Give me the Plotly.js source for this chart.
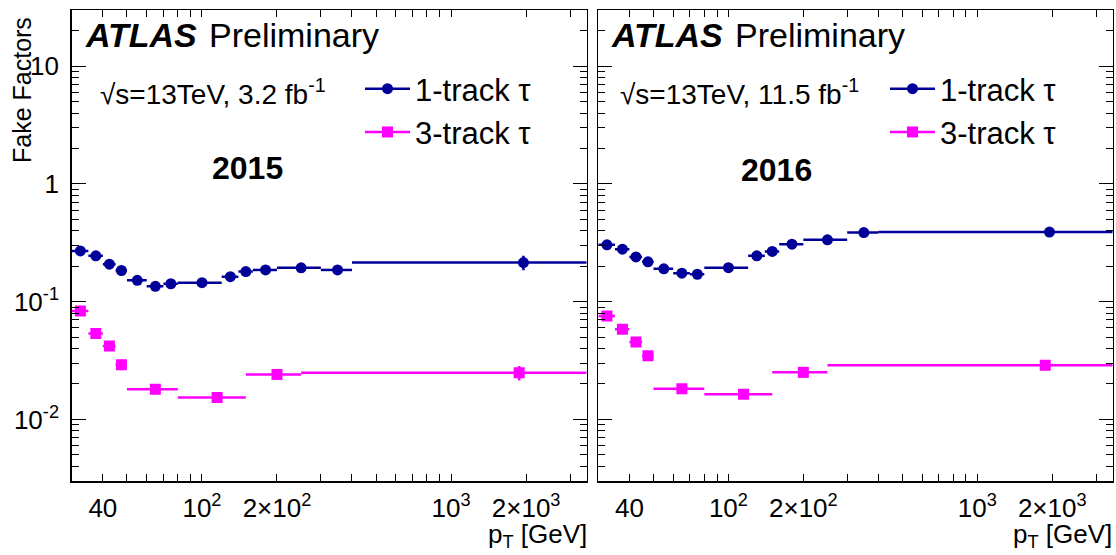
<!DOCTYPE html>
<html><head><meta charset="utf-8">
<script src="https://cdn.plot.ly/plotly-3.0.1.min.js"></script>
<style>html,body{margin:0;padding:0;background:#fff}#chart{width:1116px;height:555px}</style>
</head><body><div id="chart"></div>
<script>
// ---------- data ----------
const edges1 = [30,35,40,45,50,60,70,80,120,140,160,200,300,400,3500];   // 1-track bins (GeV)
const edges3 = [30,35,40,45,50,80,150,250,3500];                         // 3-track bins (GeV)

const ff1_2015  = [0.270,0.245,0.208,0.184,0.152,0.135,0.142,0.145,0.163,0.180,0.186,0.194,0.186,0.215];
const err1_2015 = [0.006,0.005,0.004,0.004,0.003,0.003,0.003,0.003,0.004,0.005,0.005,0.006,0.008,0.030];
const ff3_2015  = [0.0833,0.0538,0.0420,0.0291,0.0180,0.01535,0.0241,0.0249];
const err3_2015 = [0.004,0.003,0.0025,0.003,0.001,0.0008,0.0012,0.0035];

const ff1_2016  = [0.304,0.279,0.240,0.218,0.190,0.1745,0.171,0.1945,0.245,0.267,0.308,0.335,0.386,0.390];
const err1_2016 = [0.004,0.004,0.003,0.003,0.003,0.002,0.002,0.002,0.003,0.004,0.004,0.005,0.006,0.010];
const ff3_2016  = [0.0755,0.0582,0.0454,0.0347,0.0182,0.01637,0.0251,0.0289];
const err3_2016 = [0.002,0.0015,0.0012,0.001,0.0005,0.0004,0.0006,0.0010];

const seriesNames = ['1-track \u03c4','3-track \u03c4'];
const colors = ['#000099','#ff00ff'];
const years = ['2015','2016'];
const lumis = ['3.2','11.5'];

const xTickVals = [40,100,200,1000,2000];
const xTickText = ['40','10<sup>2</sup>','2\u00d710<sup>2</sup>','10<sup>3</sup>','2\u00d710<sup>3</sup>'];
const xMinorVals = [50,60,70,80,90,300,400,500,600,700,800,900,3000];
const xLongVals = [100,1000];
const yTickVals = [0.01,0.1,1,10];
const yTickText = ['10<sup>-2</sup>','10<sup>-1</sup>','1','10'];
const yMinorVals = [0.003,0.004,0.005,0.006,0.007,0.008,0.009,0.02,0.03,0.04,0.05,0.06,0.07,0.08,0.09,
                    0.2,0.3,0.4,0.5,0.6,0.7,0.8,0.9,2,3,4,5,6,7,8,9,20,30];
const xRange = [30,3500];
const yRange = [0.003,30];

// ---------- helpers ----------
const FONT = 'Liberation Sans, Arial, Helvetica, sans-serif';
function centers(e){ const c=[]; for(let i=0;i<e.length-1;i++) c.push((e[i]+e[i+1])/2); return c; }
function plus(e){ const c=centers(e); return c.map((v,i)=>e[i+1]-v); }
function minus(e){ const c=centers(e); return c.map((v,i)=>v-e[i]); }

function dataTrace(edges, vals, errs, color, symbol, xa, ya){
  return {
    type:'scatter', mode:'markers', x:centers(edges), y:vals, xaxis:xa, yaxis:ya, showlegend:false,
    marker:{color:color, size:11, symbol:symbol},
    error_x:{type:'data', symmetric:false, array:plus(edges), arrayminus:minus(edges), color:color, thickness:2.5, width:0},
    error_y:{type:'data', array:errs, color:color, thickness:2.5, width:0},
    hoverinfo:'x+y'
  };
}
function legendTrace(name, color, symbol, xa, ya, leg, grp){
  return {type:'scatter', mode:'lines+markers', x:[null], y:[null], xaxis:xa, yaxis:ya, name:name,
    legend:leg, legendgroup:grp, line:{color:color, width:2.5}, marker:{color:color, size:11, symbol:symbol}};
}

const traces = [
  dataTrace(edges1, ff1_2015, err1_2015, colors[0], 'circle', 'x', 'y'),
  dataTrace(edges3, ff3_2015, err3_2015, colors[1], 'square', 'x', 'y'),
  dataTrace(edges1, ff1_2016, err1_2016, colors[0], 'circle', 'x2', 'y2'),
  dataTrace(edges3, ff3_2016, err3_2016, colors[1], 'square', 'x2', 'y2'),
  legendTrace(seriesNames[0], colors[0], 'circle', 'x', 'y', 'legend', 'a'),
  legendTrace(seriesNames[1], colors[1], 'square', 'x', 'y', 'legend', 'b'),
  legendTrace(seriesNames[0], colors[0], 'circle', 'x2', 'y2', 'legend2', 'c'),
  legendTrace(seriesNames[1], colors[1], 'square', 'x2', 'y2', 'legend2', 'd')
];

const lg = v => Math.log10(v);
function xAxis(domain, anchor, labels){
  return {type:'log', range:[lg(xRange[0]), lg(xRange[1])], domain:domain, anchor:anchor,
    showline:true, linecolor:'#000', linewidth:1.5, mirror:'allticks', showgrid:false, zeroline:false,
    ticks:'inside', ticklen:7, tickwidth:1, tickcolor:'#000',
    tickmode:'array', tickvals:xTickVals, ticktext:xTickText, showticklabels:labels,
    ticklabelstandoff:3, tickfont:{family:FONT, size:26, color:'#000'},
    minor:{tickmode:'array', tickvals:xMinorVals, ticks:'inside', ticklen:7, tickwidth:1, tickcolor:'#000'},
    automargin:false, fixedrange:true};
}
function xLong(overlay, anchor){
  return {type:'log', range:[lg(xRange[0]), lg(xRange[1])], overlaying:overlay, anchor:anchor,
    showline:false, mirror:'ticks', showgrid:false, zeroline:false, ticks:'inside', ticklen:15, tickwidth:1, tickcolor:'#000',
    tickmode:'array', tickvals:xLongVals, showticklabels:false, automargin:false, fixedrange:true};
}
function yAxis(domain, anchor, labels){
  return {type:'log', range:[lg(yRange[0]), lg(yRange[1])], domain:domain, anchor:anchor,
    showline:true, linecolor:'#000', linewidth:1.5, mirror:'allticks', showgrid:false, zeroline:false,
    ticks:'inside', ticklen:14, tickwidth:1, tickcolor:'#000',
    tickmode:'array', tickvals:yTickVals, ticktext:yTickText, showticklabels:labels,
    ticklabelstandoff:6, tickfont:{family:FONT, size:26, color:'#000'},
    minor:{tickmode:'array', tickvals:yMinorVals, ticks:'inside', ticklen:7, tickwidth:1, tickcolor:'#000'},
    automargin:false, fixedrange:true};
}

const W=1116, H=555;
const px = v => v/W, py = v => 1 - v/H;
const yDom = [py(481), py(10)];

function ann(text, x, y, size, xanchor, extra){
  return Object.assign({text:text, x:px(x), y:py(y), xref:'paper', yref:'paper', showarrow:false,
    xanchor:xanchor||'left', yanchor:'middle', font:{family:FONT, size:size, color:'#000'}}, extra||{});
}

const annotations = [
  ann('<b><i>ATLAS</i></b>', 83, 35, 34),
  ann('Preliminary', 207, 35, 34),
  ann('\u221As=13TeV, '+lumis[0]+' fb<sup>-1</sup>', 98, 92, 28),
  ann('<b>'+years[0]+'</b>', 247, 168, 32, 'center'),
  ann('<b><i>ATLAS</i></b>', 609, 35, 34),
  ann('Preliminary', 733, 35, 34),
  ann('\u221As=13TeV, '+lumis[1]+' fb<sup>-1</sup>', 618, 92, 28),
  ann('<b>'+years[1]+'</b>', 776, 170, 32, 'center'),
  ann('Fake Factors', 22, 90, 25, 'center', {textangle:-90}),
  ann('p<sub>T</sub> [GeV]', 589, 535, 26, 'right'),
  ann('p<sub>T</sub> [GeV]', 1114, 535, 26, 'right')
];

const legendBase = {xanchor:'left', yanchor:'top', bgcolor:'rgba(0,0,0,0)', borderwidth:0,
  font:{family:FONT, size:31, color:'#000'}, tracegroupgap:0, itemwidth:45, traceorder:'grouped'};

const layout = {
  width:W, height:H, margin:{l:0,r:0,t:0,b:0}, paper_bgcolor:'#fff', plot_bgcolor:'#fff',
  xaxis: xAxis([px(71.7), px(586.7)], 'y', true),
  yaxis: yAxis(yDom, 'x', true),
  xaxis2: xAxis([px(598.3), px(1112.7)], 'y2', true),
  yaxis2: yAxis(yDom, 'x2', false),
  xaxis3: xLong('x', 'y'),
  xaxis4: xLong('x2', 'y2'),
  legend: Object.assign({x:px(360), y:py(62)}, legendBase),
  legend2: Object.assign({x:px(885), y:py(62)}, legendBase),
  annotations: annotations,
  showlegend:true
};

Plotly.newPlot('chart', traces, layout, {displayModeBar:false, staticPlot:true});
</script></body></html>
